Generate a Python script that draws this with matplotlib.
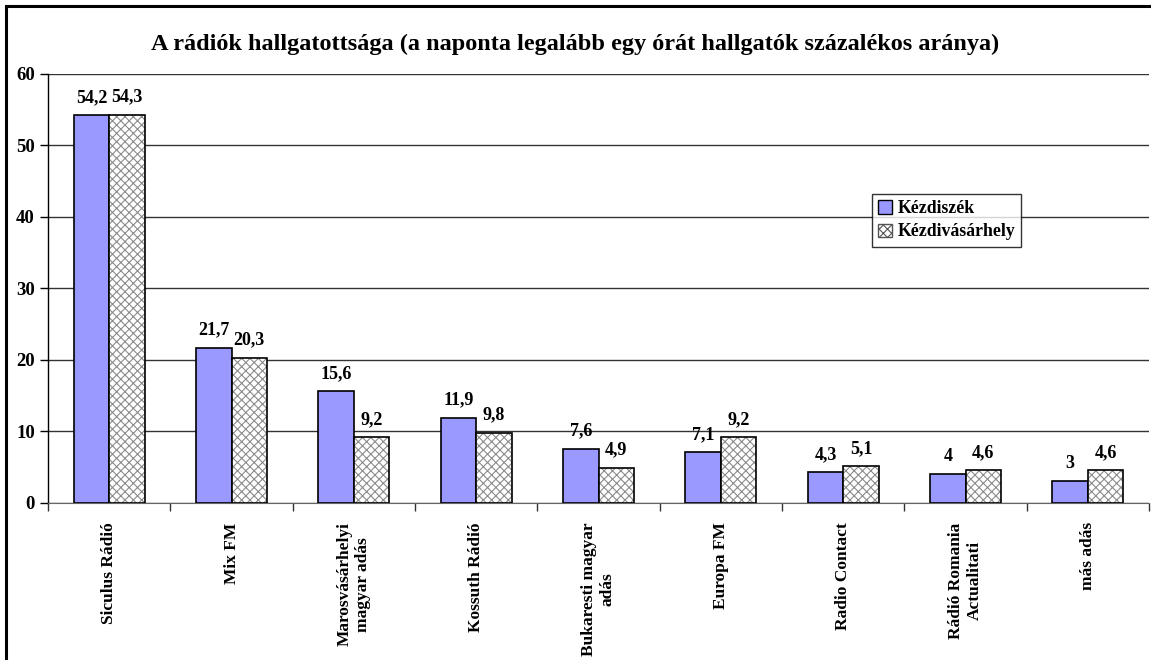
import numpy as np
import matplotlib.pyplot as plt
from matplotlib.patches import Rectangle, Patch

plt.rcParams['font.family'] = ['Liberation Serif', 'DejaVu Serif']
plt.rcParams['font.weight'] = 'bold'
plt.rcParams['hatch.linewidth'] = 0.8

categories = ["Siculus Rádió", "Mix FM", "Marosvásárhelyi\nmagyar adás", "Kossuth Rádió",
              "Bukaresti magyar\nadás", "Europa FM", "Radio Contact",
              "Rádió Romania\nActualitati", "más adás"]
kezdiszek = [54.2, 21.7, 15.6, 11.9, 7.6, 7.1, 4.3, 4, 3]
kezdivasarhely = [54.3, 20.3, 9.2, 9.8, 4.9, 9.2, 5.1, 4.6, 4.6]
series_names = ["Kézdiszék", "Kézdivásárhely"]


def fmt(v):
    return ("%g" % v).replace(".", ",")


fig = plt.figure(figsize=(11.51, 6.6), dpi=100)
ax = fig.add_axes([0.0417, 0.238, 0.9566, 0.650])

x = np.arange(len(categories))
w = 0.29
ax.bar(x - w / 2, kezdiszek, w, color="#9999ff", edgecolor="black", linewidth=1.2,
       label=series_names[0], zorder=3)
# hatched fill in grey, black outline on top
ax.bar(x + w / 2, kezdivasarhely, w, color="white", edgecolor="#8c8c8c", hatch="xxxx",
       linewidth=0, zorder=3)
ax.bar(x + w / 2, kezdivasarhely, w, fill=False, edgecolor="black", linewidth=1.2, zorder=4)

for xi, v in zip(x - w / 2, kezdiszek):
    ax.text(xi, v + 1.3, fmt(v), ha="center", va="bottom", fontsize=13, fontweight="bold")
for xi, v in zip(x + w / 2, kezdivasarhely):
    ax.text(xi, v + 1.3, fmt(v), ha="center", va="bottom", fontsize=13, fontweight="bold")

ax.set_xlim(-0.5, len(categories) - 0.5)
ax.set_ylim(0, 60)
ax.set_yticks(range(0, 61, 10))
ax.yaxis.grid(True, color="#333333", linewidth=1.0, zorder=0)
ax.set_axisbelow(True)
for s in ["top", "right"]:
    ax.spines[s].set_visible(False)
ax.spines["left"].set_linewidth(1.0)
ax.spines["bottom"].set_color("#666666")
ax.tick_params(axis="y", length=6, labelsize=13.5, width=1)
ax.set_xticks(x)
ax.set_xticklabels(categories, rotation=90, fontsize=12.5, fontweight="bold", va="top",
                   ha="center", multialignment="center")
ax.tick_params(axis="x", length=0, pad=14)
ax.set_xticks(np.arange(-0.5, len(categories), 1), minor=True)
ax.tick_params(axis="x", which="minor", length=6, width=1, color="#333333")
for lbl in ax.get_yticklabels():
    lbl.set_fontweight("bold")

handles = [Patch(facecolor="#9999ff", edgecolor="black", label=series_names[0]),
           Patch(facecolor="white", edgecolor="#555555", hatch="xxxx", label=series_names[1])]
leg = ax.legend(handles=handles, loc="upper left", bbox_to_anchor=(0.748, 0.720),
                frameon=True, fancybox=False, edgecolor="black", fontsize=12.8,
                handlelength=0.8, handleheight=0.8, handletextpad=0.3, borderpad=0.35,
                labelspacing=0.35, borderaxespad=0)
leg.get_frame().set_linewidth(1.0)
for t in leg.get_texts():
    t.set_fontweight("bold")

fig.text(0.5, 0.932, "A rádiók hallgatottsága (a naponta legalább egy órát hallgatók százalékos aránya)",
         ha="center", va="center", fontsize=17.5, fontweight="bold")

fig.patches.append(Rectangle((6 / 1151, -0.01), 1.02, 1 - 6 / 660 + 0.01, transform=fig.transFigure,
                             fill=False, edgecolor="black", linewidth=2.2))

fig.savefig("out.png", dpi=100)
